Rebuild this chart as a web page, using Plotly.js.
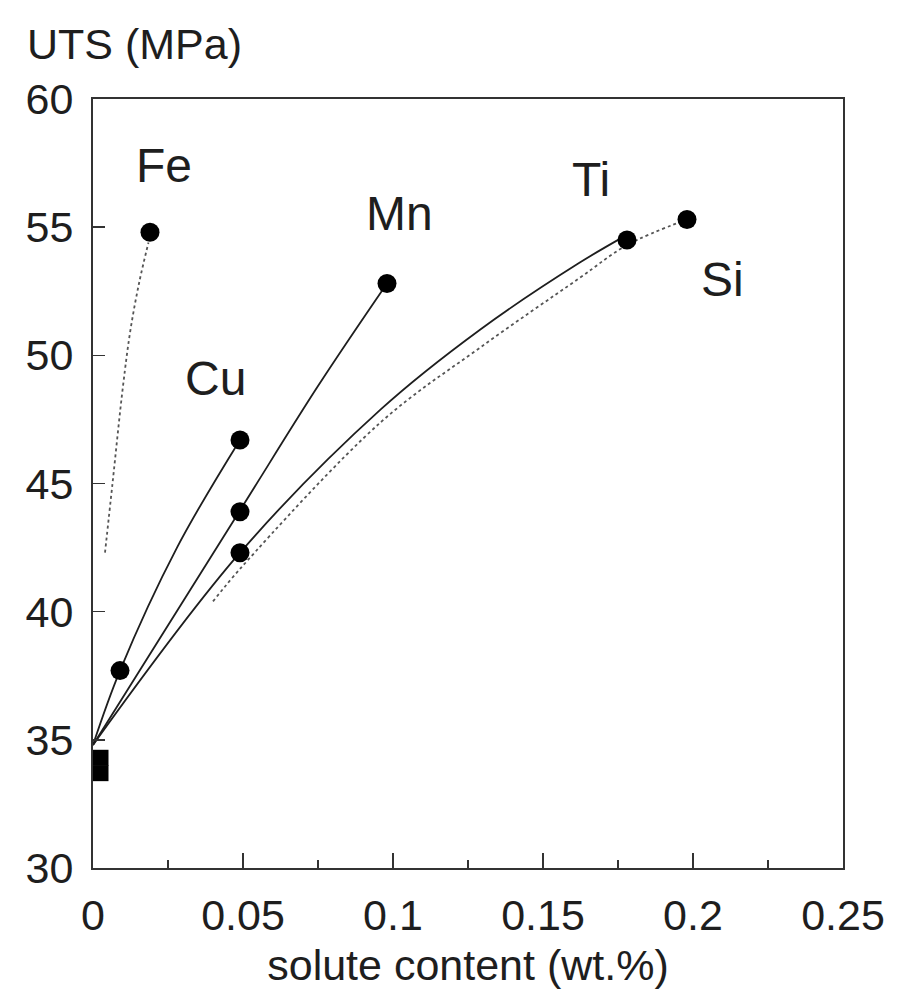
<!DOCTYPE html>
<html>
<head>
<meta charset="utf-8">
<script src="https://cdn.plot.ly/plotly-3.0.1.min.js"></script>
<style>html,body{margin:0;padding:0;background:#fff;}#chart{width:906px;height:1001px;}</style>
</head>
<body>
<div id="chart"></div>
<script>
// ---- data ----
const xTickVals = [0, 0.05, 0.1, 0.15, 0.2, 0.25];
const xTickLabels = ['0', '0.05', '0.1', '0.15', '0.2', '0.25'];
const xMinorVals = [0.025, 0.075, 0.125, 0.175, 0.225];
const yTickVals = [30, 35, 40, 45, 50, 55, 60];

// fitted curves (solid)
const cuCurveX = [0, 0.009, 0.028, 0.049];
const cuCurveY = [34.8, 37.7, 42.5, 46.7];
const mnCurveX = [0, 0.049, 0.075, 0.098];
const mnCurveY = [34.8, 43.95, 48.8, 52.8];
const tiCurveX = [0, 0.049, 0.096, 0.129, 0.162, 0.178];
const tiCurveY = [34.8, 42.3, 47.9, 51.0, 53.6, 54.7];
// fitted curves (dotted)
const feCurveX = [0.004, 0.0065, 0.01, 0.0125, 0.0155, 0.0185];
const feCurveY = [42.3, 45.0, 48.8, 51.0, 52.9, 54.4];
const siCurveX = [0.04, 0.05, 0.096, 0.129, 0.162, 0.178, 0.198];
const siCurveY = [40.4, 41.8, 47.4, 50.3, 53.0, 54.3, 55.3];

// measured points
const pointX = [0.019, 0.009, 0.049, 0.049, 0.098, 0.049, 0.178, 0.198];
const pointY = [54.8, 37.7, 46.7, 43.9, 52.8, 42.3, 54.5, 55.3];
const baseX = [0.0025, 0.0025];
const baseY = [34.3, 33.7];

// element labels
const labelText = ['Fe', 'Cu', 'Mn', 'Ti', 'Si'];
const labelX = [0.0237, 0.0407, 0.1023, 0.166, 0.2097];
const labelY = [57.42, 49.11, 55.55, 56.85, 52.94];

const FONT = 'Liberation Sans, Arial, Helvetica, sans-serif';
const INK = '#1e1e1e';

function solid(x, y) {
  return {x: x, y: y, mode: 'lines', type: 'scatter', hoverinfo: 'skip',
    line: {color: INK, width: 1.8, shape: 'spline', smoothing: 1}};
}
function dotted(x, y) {
  return {x: x, y: y, mode: 'lines', type: 'scatter', hoverinfo: 'skip',
    line: {color: '#555', width: 1.8, dash: 'dot', shape: 'spline', smoothing: 1}};
}

const traces = [
  dotted(feCurveX, feCurveY),
  dotted(siCurveX, siCurveY),
  solid(cuCurveX, cuCurveY),
  solid(mnCurveX, mnCurveY),
  solid(tiCurveX, tiCurveY),
  {x: pointX, y: pointY, mode: 'markers', type: 'scatter',
    marker: {symbol: 'circle', size: 19, color: '#000'}},
  {x: baseX, y: baseY, mode: 'markers', type: 'scatter', cliponaxis: false,
    marker: {symbol: 'square', size: 16, color: '#000'}}
];

const annotations = labelText.map((t, i) => ({
  x: labelX[i], y: labelY[i], xref: 'x', yref: 'y', text: t, showarrow: false,
  font: {family: FONT, size: 48, color: INK}, xanchor: 'center', yanchor: 'middle'
}));
annotations.push({
  x: -0.0907, y: 1.072, xref: 'paper', yref: 'paper', text: 'UTS (MPa)', showarrow: false,
  xanchor: 'left', yanchor: 'middle', font: {family: FONT, size: 43, color: INK}
});

const layout = {
  width: 906, height: 1001,
  margin: {l: 93, r: 63, t: 99, b: 133},
  paper_bgcolor: '#fff', plot_bgcolor: '#fff',
  showlegend: false,
  font: {family: FONT, color: INK},
  xaxis: {
    range: [0, 0.25], tickvals: xTickVals, ticktext: xTickLabels,
    ticks: 'inside', ticklen: 15, tickwidth: 1.5, tickcolor: '#333',
    minor: {tickvals: xMinorVals, ticks: 'inside', ticklen: 8, tickwidth: 1.5, tickcolor: '#333'},
    showline: true, mirror: true, linecolor: '#333', linewidth: 2,
    showgrid: false, zeroline: false,
    tickfont: {family: FONT, size: 43, color: INK},
    ticklabelstandoff: 8,
    title: {text: 'solute content (wt.%)', font: {family: FONT, size: 43, color: INK}, standoff: 12}
  },
  yaxis: {
    range: [30, 60], tickvals: yTickVals,
    ticks: 'inside', ticklen: 12, tickwidth: 1.5, tickcolor: '#333',
    showline: true, mirror: true, linecolor: '#333', linewidth: 2,
    showgrid: false, zeroline: false,
    tickfont: {family: FONT, size: 43, color: INK},
    ticklabelstandoff: 9
  },
  annotations: annotations
};

Plotly.newPlot('chart', traces, layout, {staticPlot: true, displayModeBar: false});
</script>
</body>
</html>
